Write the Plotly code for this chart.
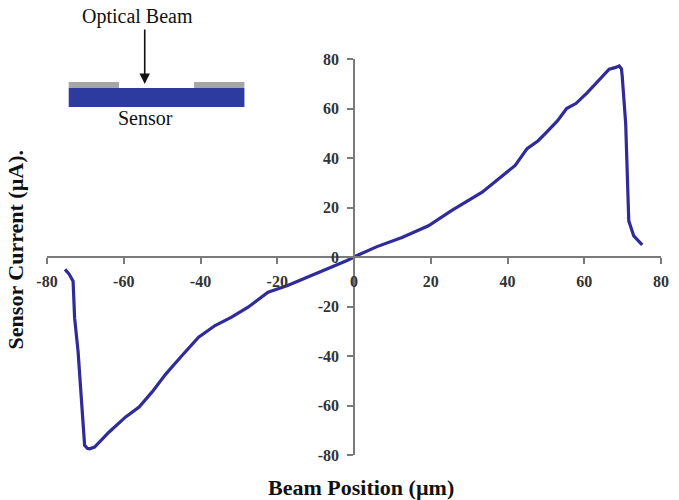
import plotly.graph_objects as go

# Beam position (µm) and measured sensor current (µA)
beam_position = [
    -75.3, -74.2, -73.2, -72.8, -71.9, -71.3, -70.8, -70.2, -69.5, -68.9,
    -67.6, -63.8, -59.5, -56.0, -52.6, -49.0, -44.8, -40.5, -36.2, -31.9,
    -27.6, -22.4, -17.3, -12.1, -7.0, -1.8, 0.8, 6.0, 12.5, 19.4,
    25.4, 31.4, 33.4, 38.2, 42.0, 45.1, 48.0, 50.2, 53.0, 55.4,
    57.9, 60.8, 62.2, 66.5, 68.0, 69.1, 69.7, 69.9, 70.8, 71.2,
    71.6, 72.9, 75.1,
]
sensor_current = [
    -5.0, -7.0, -9.8, -24.7, -38.2, -51.7, -65.3, -76.1, -77.3, -77.5,
    -76.8, -70.7, -64.6, -60.6, -54.5, -47.2, -39.8, -32.4, -27.7, -24.3,
    -20.3, -14.2, -11.5, -8.2, -4.8, -1.4, 0.6, 4.2, 7.9, 12.6,
    18.7, 24.1, 26.2, 32.2, 37.0, 43.8, 47.0, 50.5, 55.0, 60.0,
    62.1, 66.4, 68.8, 75.9, 76.5, 77.2, 76.0, 72.9, 53.9, 33.6,
    14.6, 8.5, 4.9,
]
tick_values = [-80, -60, -40, -20, 0, 20, 40, 60, 80]
tick_labels = [str(v) for v in tick_values]

W, H = 679, 500
ML, MR, MT, MB = 47, 10, 59, 45
PW, PH = W - ML - MR, H - MT - MB

SERIF = "Liberation Serif"
AXIS_GRAY = "#7a7a7a"
LINE_BLUE = "#2f2b99"


def px_x(px):
    """Horizontal pixel position -> paper fraction."""
    return (px - ML) / PW


def px_y(py):
    """Vertical pixel position (from top) -> paper fraction."""
    return (H - MB - py) / PH


fig = go.Figure()
fig.add_trace(go.Scatter(
    x=beam_position, y=sensor_current, mode="lines",
    line=dict(color=LINE_BLUE, width=3.2),
    hoverinfo="skip", showlegend=False,
))

tick_font = dict(family=SERIF, size=16, color="#333333", weight="bold")
common_axis = dict(
    range=[-80, 80], tickvals=tick_values, ticktext=tick_labels,
    showgrid=False, zeroline=False,
    showline=True, linecolor=AXIS_GRAY, linewidth=1.5,
    ticks="outside", ticklen=6, tickwidth=1.5, tickcolor=AXIS_GRAY,
    tickfont=tick_font, anchor="free", position=0.5,
)

# Sensor schematic: metal pads on top of the sensor strip
shapes = [
    dict(type="rect", xref="paper", yref="paper",
         x0=px_x(69), x1=px_x(120), y0=px_y(88), y1=px_y(82),
         fillcolor="#a6a6a6", line=dict(width=0), layer="above"),
    dict(type="rect", xref="paper", yref="paper",
         x0=px_x(196), x1=px_x(247), y0=px_y(88), y1=px_y(82),
         fillcolor="#a6a6a6", line=dict(width=0), layer="above"),
    dict(type="rect", xref="paper", yref="paper",
         x0=px_x(69), x1=px_x(247), y0=px_y(107), y1=px_y(88),
         fillcolor="#2d3a9e", line=dict(width=0), layer="above"),
]

title_font = dict(family=SERIF, size=22, color="#111111", weight="bold")
label_font = dict(family=SERIF, size=20, color="#111111", weight="normal")

annotations = [
    dict(text="Beam Position (µm)", xref="paper", yref="paper",
         x=px_x(365), y=px_y(487), xanchor="center", yanchor="middle",
         showarrow=False, font=title_font),
    dict(text="Sensor Current (µA).", xref="paper", yref="paper",
         x=px_x(15), y=px_y(250), xanchor="center", yanchor="middle",
         textangle=-90, showarrow=False, font=title_font),
    dict(text="Optical Beam", xref="paper", yref="paper",
         x=px_x(139), y=px_y(16), xanchor="center", yanchor="middle",
         showarrow=False, font=label_font),
    dict(text="Sensor", xref="paper", yref="paper",
         x=px_x(147), y=px_y(118), xanchor="center", yanchor="middle",
         showarrow=False, font=label_font),
    dict(text="", xref="paper", yref="paper",
         x=px_x(146), y=px_y(84), ax=0, ay=-56,
         showarrow=True, arrowhead=2, arrowsize=1.3, arrowwidth=1.6,
         arrowcolor="#111111"),
]

fig.update_layout(
    width=W, height=H,
    margin=dict(l=ML, r=MR, t=MT, b=MB),
    paper_bgcolor="white", plot_bgcolor="white",
    xaxis=dict(**common_axis, ticklabelstandoff=4),
    yaxis=dict(**common_axis, ticklabelstandoff=5),
    shapes=shapes, annotations=annotations,
)

fig.write_html("out.html")
